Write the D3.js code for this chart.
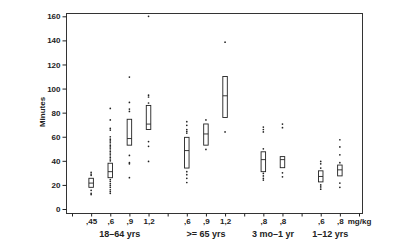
<!DOCTYPE html>
<html>
<head>
<meta charset="utf-8">
<script src="https://cdn.jsdelivr.net/npm/d3@7"></script>
<style>
  body { margin: 0; background: #fff; }
  svg { display: block; }
  text { font-family: "Liberation Sans", Arial, sans-serif; fill: #222; }
</style>
</head>
<body>
<div id="chart"></div>
<script>
// tick labels along the x axis, one per slot (empty slots separate the age groups)
const slotLabels = ["", ",45", ",6", ",9", "1,2", "", ",6", ",9", "1,2", "", ",8", ",8", "", ",6", ",8", "mg/kg"]
const groupNames = ["18–64 yrs", ">= 65 yrs", "3 mo–1 yr", "1–12 yrs"]
const groupSlots = [[1, 4], [6, 8], [10, 11], [13, 14]]

// one entry per box
const boxSlot = [1, 2, 3, 4, 6, 7, 8, 10, 11, 13, 14]
const boxQ1 = [18, 26, 53, 66, 34, 53, 76, 31, 34.3, 22.5, 27.5]
const boxMedian = [21.5, 31, 58.5, 70.5, 48.5, 62.3, 94, 41, 41, 27, 32.5]
const boxQ3 = [25.5, 38, 74.5, 86, 59.5, 70.6, 110, 47.5, 43.5, 31.7, 36.5]
const boxPoints = [
  [30.5, 29, 28, 15.5, 13, 12],
  [83.5, 74, 67, 65.5, 60, 58, 56.5, 55, 53, 51.5, 50, 48, 46.5, 45, 43, 41.5, 40,
   24.5, 23, 21, 19.5, 18, 16, 14.5, 13],
  [109.5, 88.5, 83, 81, 44.5, 38.5, 37.5, 26],
  [160, 94.5, 93, 88, 56, 52, 39.5],
  [72.5, 69.5, 66, 64.5, 63, 31, 28.5, 25.5, 22],
  [74, 49.5],
  [138.5, 64],
  [68, 66, 64, 50, 29.5, 27.5, 25.5, 24],
  [70.5, 67.5, 30, 26.7],
  [39.5, 37.5, 34, 20, 18.3, 16.5],
  [57.5, 51.5, 45, 38.5, 21.5, 18]
]
const yTicks = [0, 20, 40, 60, 80, 100, 120, 140, 160]

const width = 400, height = 246
const frame = { left: 66, right: 362, top: 13, bottom: 213 }
const ink = "#222"
const boxW = 4.5

const svg = d3.select("#chart").append("svg")
  .attr("width", width).attr("height", height)

const x = d3.scaleLinear().domain([0, 15]).range([72, 359])
const y = d3.scaleLinear().domain([0, 160]).range([209, 16.3])

// plot frame
svg.append("rect")
  .attr("x", frame.left + 0.5).attr("y", frame.top + 0.5)
  .attr("width", frame.right - frame.left).attr("height", frame.bottom - frame.top)
  .attr("fill", "none").attr("stroke", "#333").attr("stroke-width", 1)

// y axis
const yAxis = svg.append("g")
  .attr("transform", `translate(${frame.left + 0.5},0)`)
  .call(d3.axisLeft(y).tickValues(yTicks).tickSize(4).tickPadding(2))
yAxis.select(".domain").remove()
yAxis.selectAll("line").attr("stroke", ink)
yAxis.selectAll("text")
  .attr("font-size", 8).attr("font-weight", "bold")
  .attr("font-family", "Liberation Sans, Arial, sans-serif").attr("fill", ink)

svg.append("text")
  .attr("transform", `translate(45,112) rotate(-90)`)
  .attr("text-anchor", "middle")
  .attr("font-size", 8).attr("font-weight", "bold")
  .text("Minutes")

// x axis
const xAxis = svg.append("g")
  .attr("transform", `translate(0,${frame.bottom + 0.5})`)
  .call(d3.axisBottom(x).tickValues(d3.range(slotLabels.length))
    .tickFormat(i => slotLabels[i]).tickSize(3).tickPadding(2))
xAxis.select(".domain").remove()
xAxis.selectAll("line").attr("stroke", ink)
xAxis.selectAll("text")
  .attr("font-size", 8).attr("font-weight", "bold")
  .attr("font-family", "Liberation Sans, Arial, sans-serif").attr("fill", ink)

svg.append("g").selectAll("text")
  .data(groupNames).join("text")
  .attr("x", (d, i) => x((groupSlots[i][0] + groupSlots[i][1]) / 2))
  .attr("y", 237)
  .attr("text-anchor", "middle")
  .attr("font-size", 9).attr("font-weight", "bold")
  .text(d => d)

// boxes
const boxes = svg.append("g").selectAll("g")
  .data(boxSlot).join("g")

boxes.append("rect")
  .attr("x", s => x(s) - boxW / 2)
  .attr("y", (s, i) => y(boxQ3[i]))
  .attr("width", boxW)
  .attr("height", (s, i) => y(boxQ1[i]) - y(boxQ3[i]))
  .attr("fill", "#fff").attr("stroke", ink).attr("stroke-width", 0.9)

boxes.append("line")
  .attr("x1", s => x(s) - boxW / 2)
  .attr("x2", s => x(s) + boxW / 2)
  .attr("y1", (s, i) => y(boxMedian[i]))
  .attr("y2", (s, i) => y(boxMedian[i]))
  .attr("stroke", ink).attr("stroke-width", 0.9)

boxes.each(function (s, i) {
  d3.select(this).selectAll("circle")
    .data(boxPoints[i]).join("circle")
    .attr("cx", x(s))
    .attr("cy", v => y(v))
    .attr("r", 0.85)
    .attr("fill", ink)
})
</script>
</body>
</html>
